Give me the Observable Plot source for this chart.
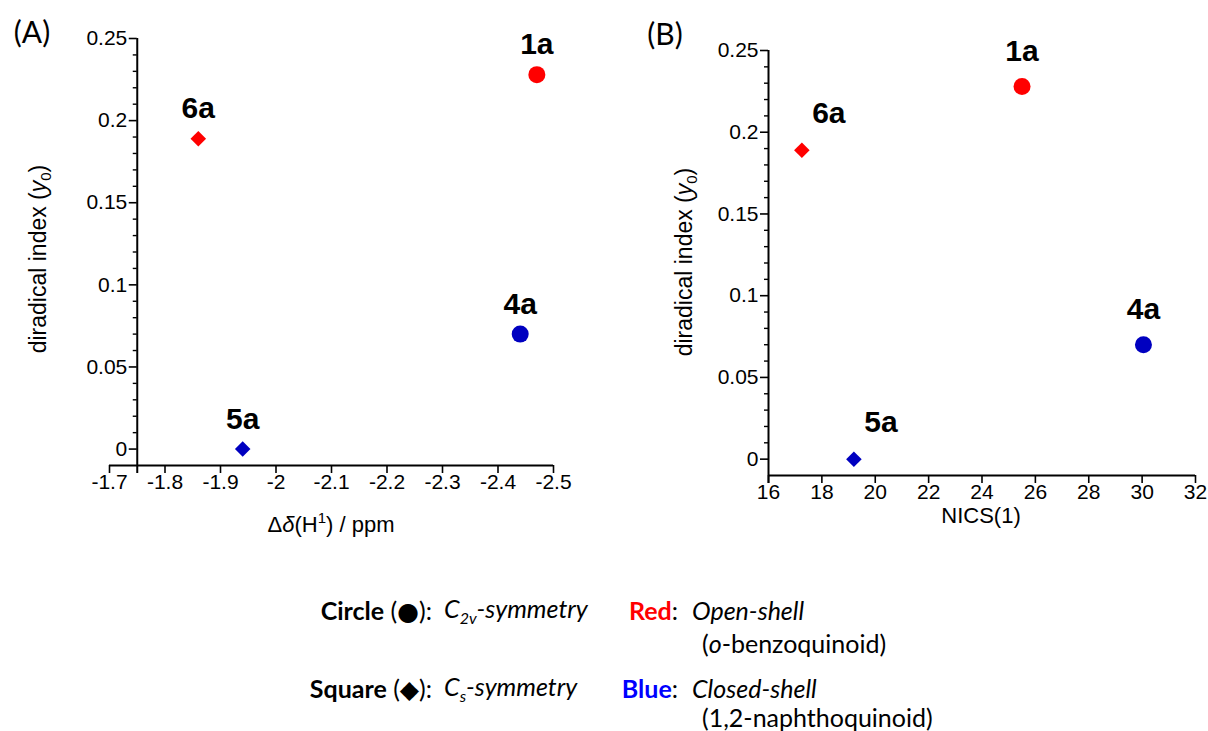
<!DOCTYPE html>
<html><head><meta charset="utf-8">
<script src="https://cdn.jsdelivr.net/npm/d3@7"></script>
<script src="https://cdn.jsdelivr.net/npm/@observablehq/plot@0.6"></script>
<style>
body{margin:0;background:#fff;}
#fig{position:relative;width:1208px;height:731px;overflow:hidden;background:#fff;}
.panel{position:absolute;top:0;}
.leg{position:absolute;font-family:Lato,"Open Sans",sans-serif;font-size:25px;line-height:25px;white-space:nowrap;color:#000;}
</style></head><body><div id="fig"></div>
<script>
// ---- data ----
const compounds = ["1a", "4a", "5a", "6a"];
const shapes    = ["circle", "circle", "diamond", "diamond"];
const shells    = ["open", "closed", "closed", "open"];
const deltaH    = [-2.47, -2.44, -1.94, -1.86];   // Δδ(H1) / ppm
const nics1     = [25.5, 30.05, 19.2, 17.25];      // NICS(1)
const y0        = [0.228, 0.070, 0.000, 0.189];    // diradical index

const xTicksA      = [-1.7, -1.8, -1.9, -2, -2.1, -2.2, -2.3, -2.4, -2.5];
const xTickLabelsA = ["-1.7", "-1.8", "-1.9", "-2", "-2.1", "-2.2", "-2.3", "-2.4", "-2.5"];
const xTicksB      = [16, 18, 20, 22, 24, 26, 28, 30, 32];
const xTickLabelsB = ["16", "18", "20", "22", "24", "26", "28", "30", "32"];
const yTicks       = [0, 0.05, 0.1, 0.15, 0.2, 0.25];
const yTickLabels  = ["0", "0.05", "0.1", "0.15", "0.2", "0.25"];
const yMinorTicks  = [0.01,0.02,0.03,0.04,0.06,0.07,0.08,0.09,0.11,0.12,0.13,0.14,0.16,0.17,0.18,0.19,0.21,0.22,0.23,0.24];

const rows = compounds.map((c, i) => ({name: c, shape: shapes[i], shell: shells[i], dh: deltaH[i], nics: nics1[i], y0: y0[i]}));

const fmt = (ticks, labels) => { const m = new Map(ticks.map((t, i) => [t, labels[i]])); return d => m.get(d) ?? ""; };
const colorScale = {domain: ["open", "closed"], range: ["#ff0000", "#0000c0"]};
const FONT = "'Liberation Sans', Arial, sans-serif";

function addText(svg, x, y, parts, {size = 20, rotate = 0, anchor = "middle", family = FONT} = {}) {
  const t = d3.select(svg).append("text")
    .attr("transform", `translate(${x},${y}) rotate(${rotate})`)
    .attr("text-anchor", anchor).attr("font-family", family).attr("font-size", size).attr("fill", "#000");
  for (const p of parts) {
    const s = t.append("tspan").text(p.t);
    if (p.italic) s.attr("font-style", "italic");
    if (p.size) s.attr("font-size", p.size);
    if (p.dy) s.attr("dy", p.dy);
  }
}

function panel({xField, xDomain, xTicks, xLabels, yAxisAt, left, width, height, mL, mR, mT, mB, labelDx, labelDy}) {
  const plotW = width - mL - mR;
  const axisOffset = (yAxisAt - xDomain[0]) / (xDomain[1] - xDomain[0]) * plotW;
  const svg = Plot.plot({
    width, height, marginLeft: mL, marginRight: mR, marginTop: mT, marginBottom: mB,
    style: {fontFamily: FONT, fontSize: "21px", color: "#000", background: "transparent", overflow: "visible"},
    x: {domain: xDomain},
    y: {domain: [-0.01, 0.25]},
    color: colorScale,
    marks: [
      Plot.ruleY([-0.01], {x1: xDomain[0], x2: xDomain[1], strokeWidth: 2}),
      Plot.ruleX([yAxisAt], {y1: -0.01, y2: 0.25, strokeWidth: 2}),
      Plot.axisX(xTicks, {anchor: "bottom", tickSize: 8, tickPadding: 1, strokeWidth: 1.6, tickFormat: fmt(xTicks, xLabels), label: null}),
      Plot.axisX([yAxisAt], {anchor: "bottom", tickSize: 8, strokeWidth: 2, tickFormat: () => "", label: null}),
      Plot.axisY(yTicks, {anchor: "left", dx: axisOffset, tickSize: 8, tickPadding: 2, strokeWidth: 1.6, tickFormat: fmt(yTicks, yTickLabels), label: null}),
      Plot.axisY(yMinorTicks, {anchor: "left", dx: axisOffset, tickSize: 4, strokeWidth: 1.4, tickFormat: () => "", label: null}),
      Plot.dot(rows, {filter: d => d.shape === "circle", x: xField, y: "y0", r: 8.5, symbol: "circle", fill: "shell"}),
      Plot.dot(rows, {filter: d => d.shape === "diamond", x: xField, y: "y0", r: 7, symbol: "diamond2", fill: "shell"}),
      Plot.text(rows, {filter: d => !(labelDx[d.name]), x: xField, y: "y0", text: "name", dy: labelDy, fontSize: 30, fontWeight: "bold", fill: "#000"}),
      Plot.text(rows, {filter: d => !!(labelDx[d.name]), x: xField, y: "y0", text: "name", dx: 27, dy: labelDy - 2, fontSize: 30, fontWeight: "bold", fill: "#000"})
    ]
  });
  svg.classList.add("panel");
  svg.style.left = left + "px";
  return svg;
}

const fig = document.getElementById("fig");

const svgA = panel({xField: "dh", xDomain: [-1.7, -2.5], xTicks: xTicksA, xLabels: xTickLabelsA, yAxisAt: -1.75,
  left: 0, width: 600, height: 545, mL: 109, mR: 47, mT: 38, mB: 80, labelDx: {}, labelDy: -30});
fig.appendChild(svgA);
addText(svgA, 32, 43, [{t: "(A)"}], {size: 30, anchor: "middle", family: "Lato, 'Open Sans', sans-serif"});
addText(svgA, 46, 259, [{t: "diradical index ("}, {t: "y", italic: true}, {t: "0", size: 15, dy: 5}, {t: ")", dy: -5}], {size: 23, rotate: -90});
addText(svgA, 331, 532, [{t: "Δ"}, {t: "δ", italic: true}, {t: "(H"}, {t: "1", size: 15, dy: -9}, {t: ") / ppm", dy: 9}], {size: 22});

const svgB = panel({xField: "nics", xDomain: [16, 32], xTicks: xTicksB, xLabels: xTickLabelsB, yAxisAt: 16,
  left: 604, width: 604, height: 545, mL: 164, mR: 13, mT: 50, mB: 70, labelDx: {"6a": 1, "5a": 1}, labelDy: -35});
fig.appendChild(svgB);
addText(svgB, 61, 45, [{t: "(B)"}], {size: 30, anchor: "middle", family: "Lato, 'Open Sans', sans-serif"});
addText(svgB, 88, 262, [{t: "diradical index ("}, {t: "y", italic: true}, {t: "0", size: 15, dy: 5}, {t: ")", dy: -5}], {size: 23, rotate: -90});
addText(svgB, 377, 523, [{t: "NICS(1)"}], {size: 22});

// ---- legend (HTML text) ----
function leg(html, x, yc, align) {
  const d = document.createElement("div");
  d.className = "leg";
  d.innerHTML = html;
  d.style.top = (yc - 12.5) + "px";
  if (align === "right") d.style.right = (1208 - x) + "px"; else d.style.left = x + "px";
  fig.appendChild(d);
}
leg("<b>Circle</b> (<span style='font-family:DejaVu Sans'>●</span>):", 432, 610, "right");
leg("<i>C</i><sub style='font-size:16px;font-style:italic'>2v</sub><i>-symmetry</i>", 444, 608);
leg("<b style='color:#ff0000'>Red</b>:", 678, 610, "right");
leg("<i>Open-shell</i>", 692, 610);
leg("(<i>o</i>-benzoquinoid)", 702, 643);
leg("<b>Square</b> (<span style='font-family:DejaVu Sans'>◆</span>):", 432, 688, "right");
leg("<i>C</i><sub style='font-size:16px;font-style:italic'>s</sub><i>-symmetry</i>", 444, 686);
leg("<b style='color:#0000ff'>Blue</b>:", 678, 688, "right");
leg("<i>Closed-shell</i>", 692, 688);
leg("(1,2-naphthoquinoid)", 702, 717);
</script></body></html>
